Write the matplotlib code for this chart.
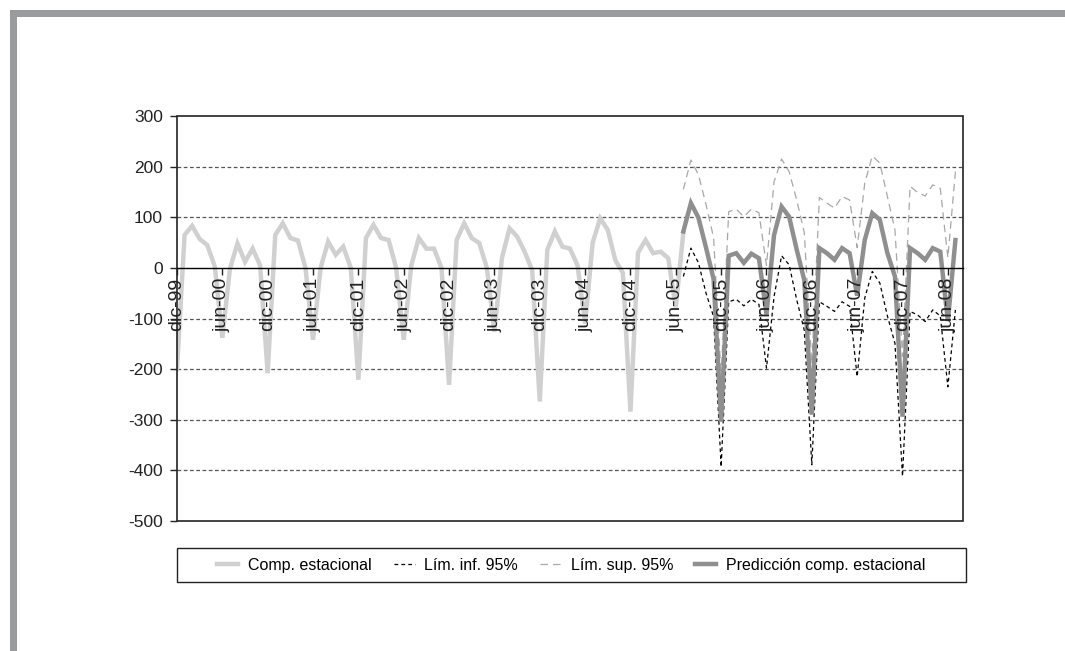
import numpy as np
import matplotlib
matplotlib.use('Agg')
import matplotlib.pyplot as plt
from matplotlib.patches import Rectangle

plt.rcParams['font.family'] = ['Liberation Sans', 'DejaVu Sans']

# monthly seasonal component, dic-99 .. jul-05
comp = [-200, 65, 83, 57, 45, 3, -138, -2, 48, 12, 38, 5,
        -208, 65, 88, 59, 54, 0, -142, 0, 52, 26, 42, 0,
        -221, 59, 85, 59, 55, 0, -142, 5, 59, 38, 38, 0,
        -231, 55, 88, 59, 49, 0, -126, 20, 78, 62, 32, -5,
        -264, 36, 72, 42, 38, 5, -110, 50, 98, 75, 15, -10,
        -284, 30, 55, 29, 32, 19, -78, 70]

# forecast from jul-05 onwards
forecast_start = 67
pred = [72, 128, 99, 40, -22, -304, 24, 29, 10, 28, 19, -92,
        65, 121, 101, 36, -24, -290, 39, 29, 16, 39, 29, -55,
        55, 108, 95, 29, -17, -294, 39, 29, 16, 39, 32, -105, 55]
upper = [155, 213, 184, 125, 60, -215, 111, 116, 101, 116, 109, 5,
         170, 215, 190, 134, 70, -190, 139, 128, 118, 141, 134, 40,
         167, 221, 207, 141, 75, -175, 161, 149, 142, 164, 157, 20, 190]
lower = [-17, 39, 10, -50, -96, -393, -67, -62, -75, -62, -72, -198,
         -57, 24, 6, -63, -123, -389, -67, -76, -86, -67, -76, -215,
         -60, -7, -30, -95, -149, -412, -86, -93, -106, -83, -95, -235, -83]

tick_labels = ['dic-99', 'jun-00', 'dic-00', 'jun-01', 'dic-01', 'jun-02',
               'dic-02', 'jun-03', 'dic-03', 'jun-04', 'dic-04', 'jun-05',
               'dic-05', 'jun-06', 'dic-06', 'jun-07', 'dic-07', 'jun-08']

x_comp = np.arange(len(comp))
x_pred = np.arange(forecast_start, forecast_start + len(pred))

fig = plt.figure(figsize=(10.65, 6.51), dpi=100)
ax = fig.add_axes([0.1662, 0.1997, 0.738, 0.6221])

ax.plot(x_comp, comp, color='#d0d0d0', lw=3.2, solid_joinstyle='miter', zorder=3,
        label='Comp. estacional')
ax.plot(x_pred, lower, color='black', lw=0.9, ls=(0, (3, 2.5)), zorder=4,
        label='Lím. inf. 95%')
ax.plot(x_pred, upper, color='#a8a8a8', lw=0.9, ls=(0, (6, 4)), zorder=4,
        label='Lím. sup. 95%')
ax.plot(x_pred, pred, color='#8f8f8f', lw=3.2, solid_joinstyle='miter', zorder=5,
        label='Predicción comp. estacional')

ax.set_xlim(0, 104)
ax.set_ylim(-500, 300)
ax.set_yticks(range(-500, 301, 100))
ax.set_yticklabels([str(v) for v in range(-500, 301, 100)])
for v in [200, 100, -100, -200, -300, -400]:
    ax.axhline(v, color='#555555', lw=0.9, ls=(0, (3, 2)), zorder=1)

# category axis crosses at zero, labels drawn over the lines
ax.spines['bottom'].set_position(('data', 0))
ax.spines['bottom'].set_linewidth(1.0)
ax.spines['bottom'].set_zorder(6)
for s in ['top', 'right', 'left']:
    ax.spines[s].set_visible(False)
ax.add_patch(Rectangle((0, 0), 1, 1, transform=ax.transAxes, fill=False,
                       edgecolor='#222222', lw=1.2, zorder=6, clip_on=False))
ax.xaxis.set_zorder(7)

ax.set_xticks(np.arange(0, 6 * len(tick_labels), 6))
ax.set_xticklabels(tick_labels, rotation=90, va='top', ha='center')
ax.tick_params(axis='x', direction='out', length=5, width=1, pad=2,
               labelsize=14, colors='#222222')
ax.tick_params(axis='y', direction='out', length=5, width=1, pad=5,
               labelsize=12.5, colors='#222222')

# legend box under the plot
fig.add_artist(Rectangle((0.1662, 0.106), 0.7405, 0.052, transform=fig.transFigure,
                         fill=False, edgecolor='#222222', lw=1.0))
fig.legend(loc='center', bbox_to_anchor=(0.1662 + 0.7405 / 2, 0.132), ncol=4,
           frameon=False, fontsize=11.5, handlelength=1.3, columnspacing=1.4,
           handletextpad=0.6)

# grey page frame
fig.add_artist(Rectangle((10 / 1065, 1 - 17 / 651), 1, 7 / 651, transform=fig.transFigure,
                         facecolor='#9a9b9d', edgecolor='none'))
fig.add_artist(Rectangle((10 / 1065, 0), 7 / 1065, 1 - 10 / 651, transform=fig.transFigure,
                         facecolor='#9a9b9d', edgecolor='none'))

fig.savefig('out.png', dpi=100)
